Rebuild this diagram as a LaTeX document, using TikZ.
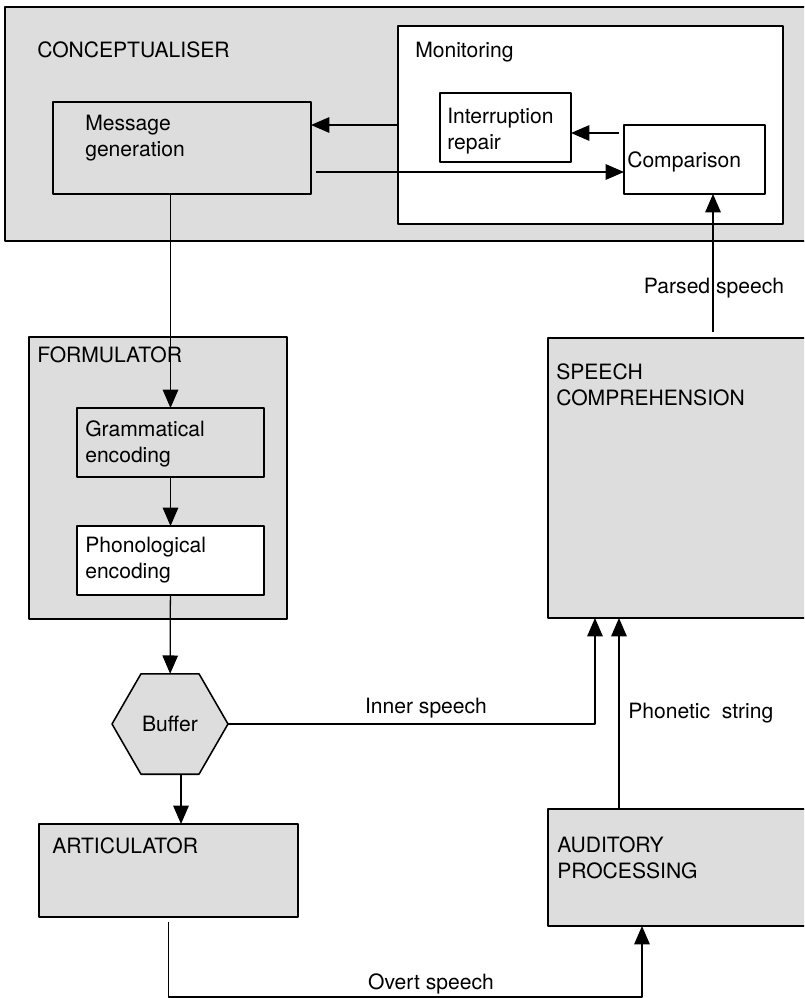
\documentclass[tikz,border=0pt]{standalone}
\usepackage{fontspec}
\setmainfont{TeX Gyre Heros}
\usetikzlibrary{arrows.meta, shapes.geometric}
\definecolor{boxgray}{gray}{0.865}

\begin{document}
\begin{tikzpicture}[x=0.025cm, y=-0.025cm, line join=round,
    font=\fontsize{15}{18.5}\selectfont,
    box/.style={draw, line width=1.1pt, fill=boxgray, inner sep=0pt, outer sep=0pt, anchor=north west},
    whitebox/.style={box, fill=white},
    boxsize/.style 2 args={minimum width=#1*0.025cm, minimum height=#2*0.025cm},
    lbl/.style={inner sep=0pt, align=left},
    link/.style={line width=0.9pt},
    arrow/.style={link, -{Triangle[length=13pt, width=11pt]}}]
    % Fix the frame and cut off the boxes that run past the right edge
    \useasboundingbox (0,0) rectangle (804,998);
    \clip (0,0) rectangle (804,998);

    % Conceptualiser with its monitoring part
    \node[box, boxsize={815}{234}] (concept) at (5,7) {};
    \node[whitebox, boxsize={385}{198}] (monitor) at (398,26) {};
    \node[box, boxsize={258}{92}] (msg) at (53,102) {};
    \node[whitebox, boxsize={131}{69}] (repair) at (440,93) {};
    \node[whitebox, boxsize={141}{69}] (compar) at (624,125) {};

    % Formulator
    \node[box, boxsize={258}{282}] (formul) at (29,337) {};
    \node[box, boxsize={187}{69}] (gram) at (77,408) {};
    \node[whitebox, boxsize={187}{69}] (phon) at (77,526) {};

    % Buffer and articulator
    \node[draw, line width=1.1pt, fill=boxgray, regular polygon, regular polygon sides=6,
          minimum size=116*0.025cm, inner sep=0pt, outer sep=0pt] (buff) at (170,724) {Buffer};
    \node[box, boxsize={259}{93}] (artic) at (39,824) {};

    % Speech comprehension and auditory processing
    \node[box, boxsize={270}{280}] (comp) at (548,338) {};
    \node[box, boxsize={270}{117}] (audit) at (548,809) {};

    % Links inside the conceptualiser
    \draw[arrow] (monitor.west) -- (monitor.west -| msg.east);
    \coordinate (mc) at ([yshift=-0.6cm]msg.east);
    \draw[arrow, shorten <=0.125cm] (mc) -- (mc -| compar.west);
    \coordinate (cr) at ([yshift=-0.1375cm]repair.east);
    \draw[arrow, shorten <=0.125cm] (cr -| compar.west) -- (cr);

    % Parsed speech back up to the comparison
    \coordinate (cp) at ([xshift=0.4625cm]compar.south);
    \draw[arrow, shorten <=0.15cm] (cp |- comp.north) -- (cp);

    % Down the production side
    \draw[arrow] (msg.south -| gram.north) -- (gram.north);
    \draw[arrow] (gram) -- (phon);
    \draw[arrow] (phon) -- (buff);
    \coordinate (ba) at ([xshift=0.275cm]buff.south);
    \draw[arrow] (ba) -- (ba |- artic.north);

    % Inner speech and phonetic string into comprehension
    \draw[arrow] (buff.east) -| ([xshift=-2.2cm]comp.south);
    \draw[arrow] ([xshift=-1.6cm]audit.north) -- ([xshift=-1.6cm]comp.south);

    % Overt speech
    \draw[arrow, shorten <=0.125cm] (artic.south) -- ++(0,80) -| ([xshift=-1.025cm]audit.south);

    % Box titles
    \node[lbl, anchor=base west] (tconcept) at (37,58) {CONCEPTUALISER};
    \node[lbl, anchor=base west] (tmonitor) at (415,58) {Monitoring};
    \node[lbl, anchor=north west] (tmsg) at (85,115) {Message\\generation};
    \node[lbl, anchor=north west] (trepair) at (447,108) {Interruption\\repair};
    \node[lbl, anchor=base west] (tcompar) at (627,168) {Comparison};
    \node[lbl, anchor=base west] (tformul) at (37,362) {FORMULATOR};
    \node[lbl, anchor=north west] (tgram) at (85,420) {Grammatical\\encoding};
    \node[lbl, anchor=north west] (tphon) at (85,537) {Phonological\\encoding};
    \node[lbl, anchor=base west] (tartic) at (52,853) {ARTICULATOR};
    \node[lbl, anchor=north west] (tcomp) at (556,363) {SPEECH\\COMPREHENSION};
    \node[lbl, anchor=north west] (taudit) at (557,836) {AUDITORY\\PROCESSING};

    % Link labels
    \node[lbl, anchor=base] (tparsed) at (714,293) {Parsed speech};
    \node[lbl, anchor=base] (tinner) at (426,713) {Inner speech};
    \node[lbl, anchor=base west] (tphonetic) at (628,718) {Phonetic~~string};
    \node[lbl, anchor=base] (tovert) at (431,989) {Overt speech};
\end{tikzpicture}
\end{document}
